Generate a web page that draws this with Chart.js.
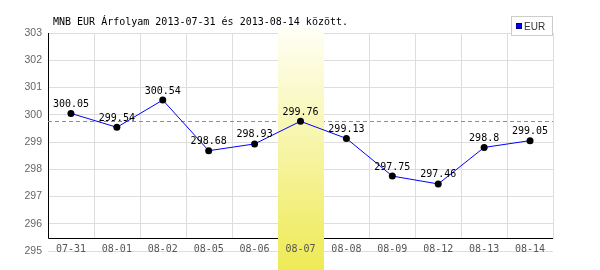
<!DOCTYPE html>
<html>
<head>
<meta charset="utf-8">
<script src="https://cdn.jsdelivr.net/npm/chart.js@4.4.0/dist/chart.umd.min.js"></script>
<style>
  html, body { margin: 0; padding: 0; background: #fff; }
</style>
</head>
<body>
<canvas id="rateChart" width="600" height="270"></canvas>
<script>
const titleText = "MNB EUR Árfolyam 2013-07-31 és 2013-08-14 között.";
const seriesName = "EUR";
const dates = ["07-31", "08-01", "08-02", "08-05", "08-06", "08-07", "08-08", "08-09", "08-12", "08-13", "08-14"];
const rates = [300.05, 299.54, 300.54, 298.68, 298.93, 299.76, 299.13, 297.75, 297.46, 298.8, 299.05];
const yMin = 295;
const yMax = 303;
const selectedIndex = 5; // highlighted day (08-07)

const mono = "'DejaVu Sans Mono', monospace";

// grid, axis lines, reference line, highlight band and x labels
const backdrop = {
  id: "backdrop",
  beforeDatasetsDraw(chart) {
    const { ctx, chartArea, scales } = chart;
    const x = scales.x, y = scales.y;
    const colW = x.getPixelForValue(1) - x.getPixelForValue(0);
    const axisY = Math.round(y.getPixelForValue(yMin)) - 13 + 0.5;
    ctx.save();

    // vertical grid
    ctx.strokeStyle = "#dddddd";
    ctx.lineWidth = 1;
    for (let i = 1; i <= dates.length; i++) {
      const gx = Math.round(chartArea.left + i * colW) + 0.5;
      ctx.beginPath();
      ctx.moveTo(gx, chartArea.top);
      ctx.lineTo(gx, axisY);
      ctx.stroke();
    }

    // axes
    ctx.strokeStyle = "#000";
    const lx = Math.round(chartArea.left) + 0.5;
    ctx.beginPath();
    ctx.moveTo(lx, chartArea.top);
    ctx.lineTo(lx, axisY);
    ctx.lineTo(chartArea.right, axisY);
    ctx.stroke();

    // dashed line at selected day's value
    const dy = Math.round(y.getPixelForValue(rates[selectedIndex])) + 0.5;
    ctx.strokeStyle = "#7f7fff";
    ctx.setLineDash([4, 3]);
    ctx.beginPath();
    ctx.moveTo(chartArea.left, dy);
    ctx.lineTo(chartArea.right, dy);
    ctx.stroke();
    ctx.setLineDash([]);

    // highlight band
    const bx = x.getPixelForValue(selectedIndex) - colW / 2;
    const top = chartArea.top - 5;
    const g = ctx.createLinearGradient(0, top, 0, chart.height);
    g.addColorStop(0, "#fffff6");
    g.addColorStop(1, "#eeea55");
    ctx.fillStyle = g;
    ctx.fillRect(Math.round(bx), top, Math.round(colW), chart.height - top);

    // x labels
    ctx.fillStyle = "#555";
    ctx.font = "10px " + mono;
    ctx.textAlign = "center";
    ctx.textBaseline = "alphabetic";
    dates.forEach((d, i) => {
      ctx.fillText(d, x.getPixelForValue(i), axisY + 13);
    });
    ctx.restore();
  },
  afterDatasetsDraw(chart) {
    const { ctx } = chart;
    const meta = chart.getDatasetMeta(0);
    ctx.save();
    ctx.fillStyle = "#000";
    ctx.font = "10px " + mono;
    ctx.textAlign = "center";
    ctx.textBaseline = "alphabetic";
    meta.data.forEach((pt, i) => {
      ctx.fillText(String(rates[i]), pt.x, pt.y - 6.5);
    });
    ctx.restore();
  },
  afterDraw(chart) {
    const { ctx, chartArea } = chart;
    ctx.save();
    // title
    ctx.fillStyle = "#000";
    ctx.font = "10px " + mono;
    ctx.textAlign = "left";
    ctx.textBaseline = "alphabetic";
    ctx.fillText(titleText, 53, 25);

    // legend
    const boxR = Math.round(chartArea.right);
    ctx.strokeStyle = "#cccccc";
    ctx.lineWidth = 1;
    ctx.fillStyle = "#fff";
    ctx.fillRect(boxR - 42, 16, 42, 20);
    ctx.strokeRect(boxR - 41.5, 16.5, 41, 19);
    ctx.fillStyle = "#0000ff";
    ctx.fillRect(boxR - 37, 23, 6, 6);
    ctx.strokeStyle = "#000080";
    ctx.strokeRect(boxR - 36.5, 23.5, 5, 5);
    ctx.fillStyle = "#333";
    ctx.font = "10px 'Liberation Sans', sans-serif";
    ctx.fillText(seriesName, boxR - 29, 30);
    ctx.restore();
  }
};

new Chart(document.getElementById("rateChart"), {
  type: "line",
  data: {
    labels: dates,
    datasets: [{
      label: seriesName,
      data: rates,
      borderColor: "#0000ff",
      borderWidth: 1,
      tension: 0,
      fill: false,
      pointRadius: 3.5,
      pointBackgroundColor: "#000",
      pointBorderColor: "#000",
      pointBorderWidth: 0
    }]
  },
  options: {
    responsive: false,
    animation: false,
    devicePixelRatio: 1,
    layout: { padding: { left: 0, top: 33, right: 47, bottom: 19 } },
    plugins: { legend: { display: false }, tooltip: { enabled: false } },
    scales: {
      x: { type: "category", offset: true, display: false },
      y: {
        min: yMin,
        max: yMax,
        afterFit(scale) { scale.width = 48; },
        border: { display: false },
        grid: { color: "#dddddd", drawTicks: false },
        ticks: {
          stepSize: 1,
          padding: 6,
          color: "#666",
          font: { family: "'Liberation Sans', sans-serif", size: 10.5 }
        }
      }
    }
  },
  plugins: [backdrop]
});
</script>
</body>
</html>
